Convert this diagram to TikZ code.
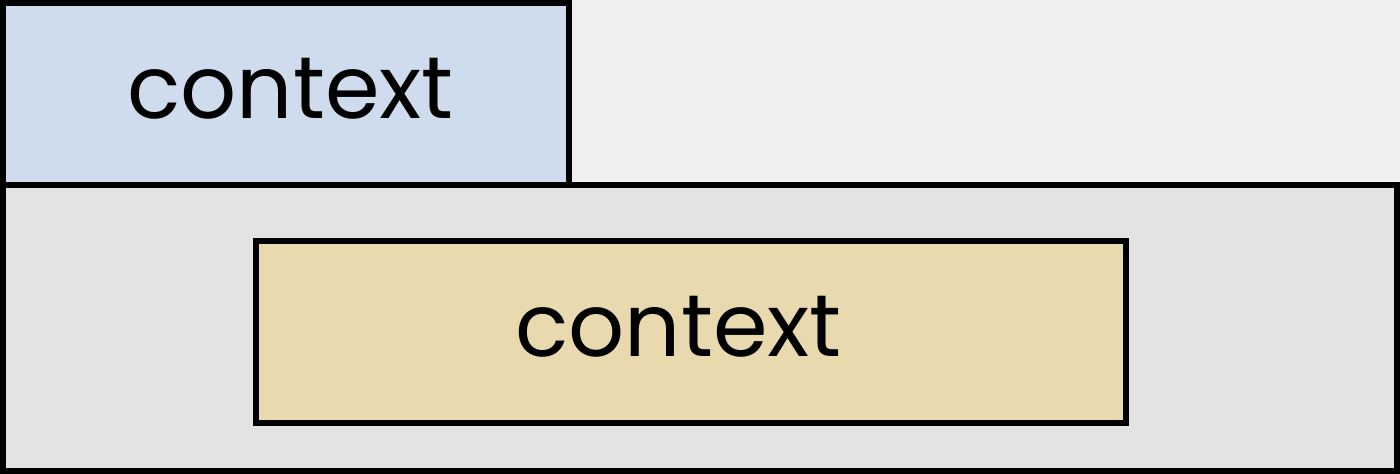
\documentclass[tikz,border=0pt]{standalone}
\usepackage{fontspec}
\setmainfont{Poppins}
\usepackage{tikz}
\definecolor{pagegray}{HTML}{EFEFEF}
\definecolor{outergray}{HTML}{E3E3E3}
\definecolor{ctxblue}{HTML}{CFDCEE}
\definecolor{ctxyellow}{HTML}{E8DAAE}
\tikzset{
    ctx/.style={
        draw=black,
        line width=1.7pt,
        inner sep=0pt,
        text height=13.7pt,
        text depth=0pt,
        font=\fontsize{25}{28}\selectfont
    }
}

\begin{document}
\begin{tikzpicture}
		% page
		\fill [pagegray] (0,0) rectangle (14,4.74);
		\useasboundingbox (0,0) rectangle (14,4.74);

		% outer frame
		\node[ctx, fill=outergray, minimum width=13.94cm, minimum height=2.86cm] (outer) at (7.00,1.46) {};

		% context blocks
		\node[ctx, fill=ctxblue, minimum width=5.66cm, minimum height=1.82cm] (upper) at (2.86,3.80) {\hspace*{0.09cm}context};
		\node[ctx, fill=ctxyellow, minimum width=8.70cm, minimum height=1.82cm] (inner) at (6.91,1.42) {context\hspace*{0.25cm}};
	\end{tikzpicture}
\end{document}
